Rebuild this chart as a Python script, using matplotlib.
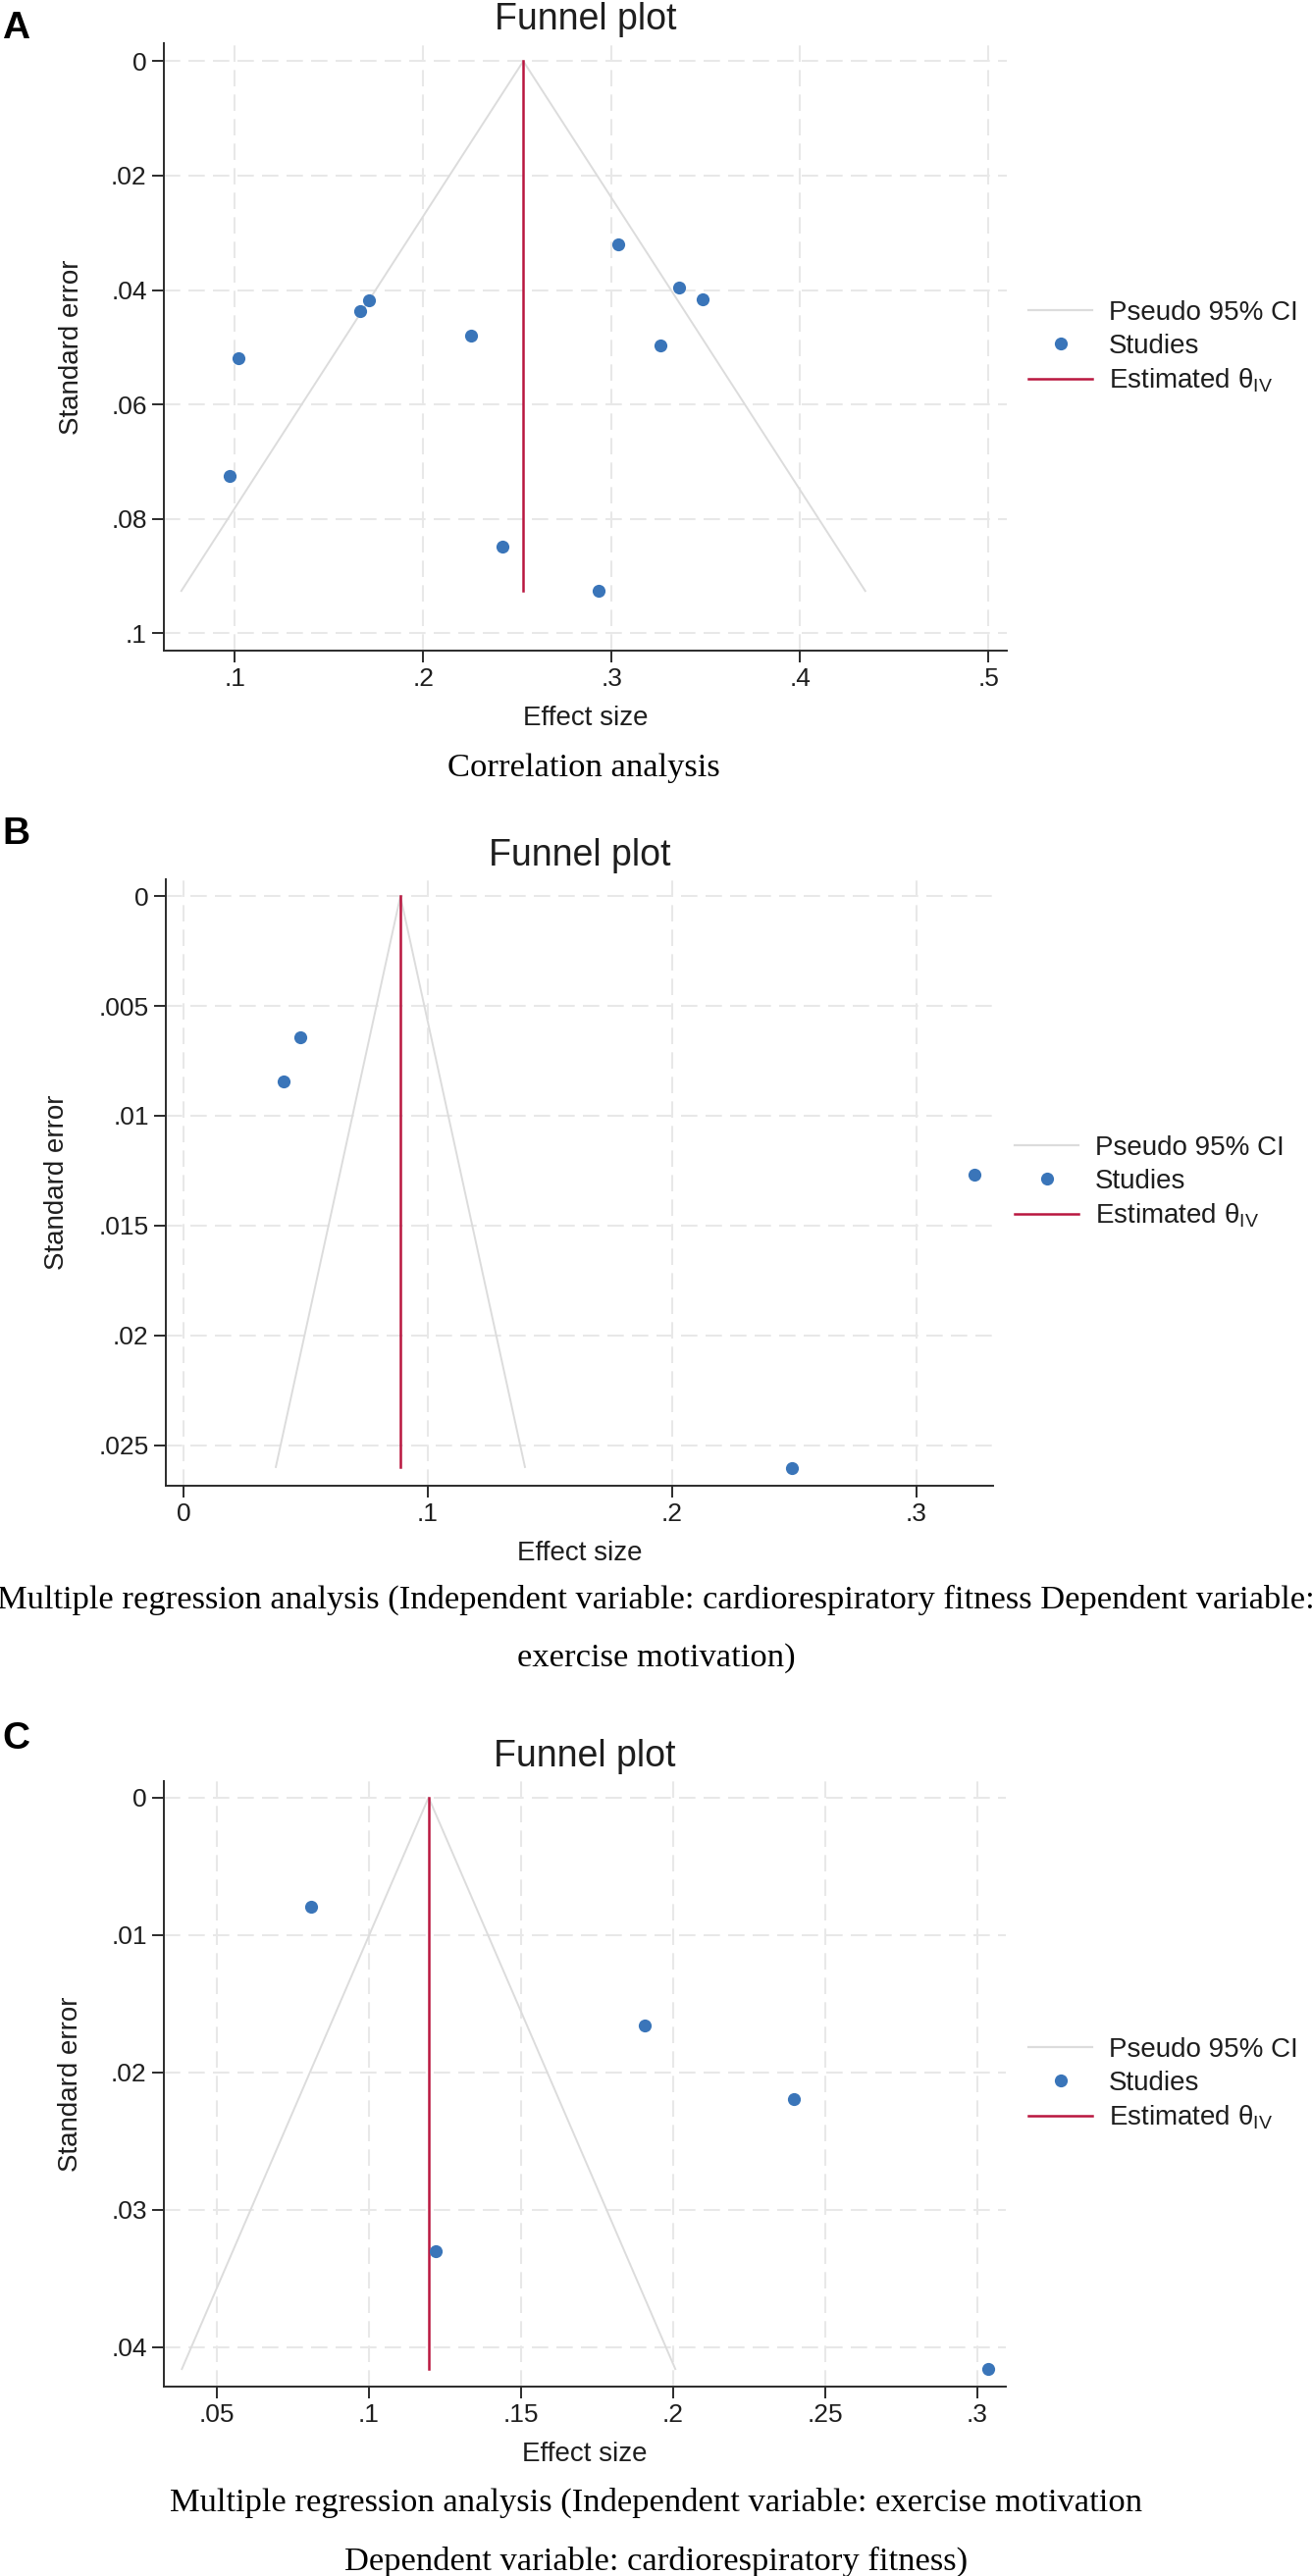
import matplotlib
matplotlib.use("Agg")
import matplotlib.pyplot as plt
from matplotlib.lines import Line2D

# ---------------- data ----------------
# Panel A: Correlation analysis
es_a = [0.097, 0.1017, 0.1665, 0.1709, 0.2254, 0.2421, 0.293, 0.3032, 0.3259, 0.3358, 0.3482]
se_a = [0.0725, 0.0520, 0.0436, 0.0418, 0.0479, 0.0849, 0.0926, 0.0321, 0.0497, 0.0396, 0.0416]
theta_a = 0.253
ci_x_a = [0.0715, 0.253, 0.4345]
ci_y_a = [0.0926, 0.0, 0.0926]

# Panel B
es_b = [0.041, 0.0479, 0.249, 0.324]
se_b = [0.00844, 0.00641, 0.02605, 0.0127]
theta_b = 0.0888
ci_x_b = [0.0378, 0.0888, 0.1398]
ci_y_b = [0.0260, 0.0, 0.0260]

# Panel C
es_c = [0.0811, 0.122, 0.1908, 0.2399, 0.3036]
se_c = [0.00793, 0.0330, 0.01659, 0.02195, 0.04161]
theta_c = 0.1197
ci_x_c = [0.0386, 0.1197, 0.2008]
ci_y_c = [0.0416, 0.0, 0.0416]

xticks_a = [0.1, 0.2, 0.3, 0.4, 0.5]
xlabels_a = [".1", ".2", ".3", ".4", ".5"]
yticks_a = [0, 0.02, 0.04, 0.06, 0.08, 0.1]
ylabels_a = ["0", ".02", ".04", ".06", ".08", ".1"]

xticks_b = [0, 0.1, 0.2, 0.3]
xlabels_b = ["0", ".1", ".2", ".3"]
yticks_b = [0, 0.005, 0.01, 0.015, 0.02, 0.025]
ylabels_b = ["0", ".005", ".01", ".015", ".02", ".025"]

xticks_c = [0.05, 0.1, 0.15, 0.2, 0.25, 0.3]
xlabels_c = [".05", ".1", ".15", ".2", ".25", ".3"]
yticks_c = [0, 0.01, 0.02, 0.03, 0.04]
ylabels_c = ["0", ".01", ".02", ".03", ".04"]

legend_labels = ["Pseudo 95% CI", "Studies", "Estimated θ$_{\\mathregular{IV}}$"]
caption_a = ["Correlation analysis"]
caption_b = ["Multiple regression analysis (Independent variable: cardiorespiratory fitness Dependent variable:",
             "exercise motivation)"]
caption_c = ["Multiple regression analysis (Independent variable: exercise motivation",
             "Dependent variable: cardiorespiratory fitness)"]

# ---------------- style ----------------
SANS = ["Liberation Sans", "DejaVu Sans"]
SERIF = ["Liberation Serif", "DejaVu Serif"]
plt.rcParams["font.family"] = SANS
plt.rcParams["mathtext.fontset"] = "custom"
plt.rcParams["mathtext.rm"] = "Liberation Sans"

W, H = 1337, 2625
DPI = 100
fig = plt.figure(figsize=(W / DPI, H / DPI), dpi=DPI)
fig.patch.set_facecolor("white")

BLUE = "#3a75b9"
RED = "#b9163f"
GREY = "#dcdcdc"
GRID = "#e8e8e8"
AXC = "#2b2b2b"
TXT = "#1e1e1e"


def fy(py):
    return 1 - py / H


def panel(rect_px, xlim, ylim, es, se, theta, cix, ciy, xt, xl, yt, yl,
          ylab_x, title_base, letter, letter_base, leg_x, leg_y, caps, cap_x, cap_y):
    l, t, r, b = rect_px
    ax = fig.add_axes([l / W, 1 - b / H, (r - l) / W, (b - t) / H])
    ax.set_xlim(*xlim)
    ax.set_ylim(ylim[1], ylim[0])
    for s in ["top", "right"]:
        ax.spines[s].set_visible(False)
    for s in ["left", "bottom"]:
        ax.spines[s].set_color(AXC)
        ax.spines[s].set_linewidth(1.4)
    ax.set_xticks(xt)
    ax.set_xticklabels(xl)
    ax.set_yticks(yt)
    ax.set_yticklabels(yl)
    ax.tick_params(axis="both", colors=AXC, labelcolor=TXT, labelsize=19,
                   width=1.4, length=8.5)
    ax.tick_params(axis="x", pad=4)
    ax.tick_params(axis="y", pad=4)
    ax.grid(True, color=GRID, linestyle=(0, (8, 4)), linewidth=1.5)
    ax.set_axisbelow(True)

    ax.plot(cix, ciy, color=GREY, lw=1.4, zorder=2)
    ax.plot([theta, theta], [0, max(ciy)], color=RED, lw=1.8, zorder=3)
    ax.plot(es, se, linestyle="none", marker="o", ms=9.5, mfc=BLUE, mec="none",
            zorder=4, clip_on=False)

    ax.set_xlabel("Effect size", fontsize=20, color=TXT, va="center")
    ax.xaxis.set_label_coords(0.5, -69 / (b - t))
    ax.set_ylabel("Standard error", fontsize=20, color=TXT, va="center")
    ax.yaxis.set_label_coords((ylab_x - l) / (r - l), 0.5)

    fig.text(((l + r) / 2) / W, fy(title_base), "Funnel plot", fontsize=27,
             color=TXT, ha="center", va="baseline")
    fig.text(2 / W, fy(letter_base), letter, fontsize=28, fontweight="bold",
             color="black", ha="left", va="baseline")

    handles = [Line2D([], [], color=GREY, lw=1.6),
               Line2D([], [], linestyle="none", marker="o", ms=9.5, mfc=BLUE, mec="none"),
               Line2D([], [], color=RED, lw=1.8)]
    ax.legend(handles, legend_labels, loc="center left",
              bbox_to_anchor=(leg_x / W, fy(leg_y)), bbox_transform=fig.transFigure,
              frameon=False, fontsize=20, handlelength=2.35, handletextpad=0.6,
              labelspacing=0.28, borderpad=0, borderaxespad=0, labelcolor=TXT)

    for txt, yy in zip(caps, cap_y):
        fig.text(cap_x / W, fy(yy), txt, fontsize=24.8, family=SERIF,
                 color="black", ha="center", va="center")
    return ax


panel((167, 44, 1026, 663), (0.06224, 0.50964), (-0.00314, 0.10303),
      es_a, se_a, theta_a, ci_x_a, ci_y_a, xticks_a, xlabels_a, yticks_a, ylabels_a,
      ylab_x=73, title_base=30, letter="A", letter_base=39,
      leg_x=1048, leg_y=354, caps=caption_a, cap_x=595, cap_y=[783])

panel((169, 896, 1012, 1514), (-0.00723, 0.33146), (-0.000773, 0.026853),
      es_b, se_b, theta_b, ci_x_b, ci_y_b, xticks_b, xlabels_b, yticks_b, ylabels_b,
      ylab_x=58, title_base=882, letter="B", letter_base=860,
      leg_x=1034, leg_y=1205, caps=caption_b, cap_x=668.5, cap_y=[1630, 1690])

panel((167, 1815, 1025, 2432), (0.03268, 0.30945), (-0.00119, 0.04288),
      es_c, se_c, theta_c, ci_x_c, ci_y_c, xticks_c, xlabels_c, yticks_c, ylabels_c,
      ylab_x=72, title_base=1800, letter="C", letter_base=1782,
      leg_x=1048, leg_y=2124, caps=caption_c, cap_x=668.5, cap_y=[2550, 2610])

fig.savefig("out.png", dpi=DPI, facecolor="white")
